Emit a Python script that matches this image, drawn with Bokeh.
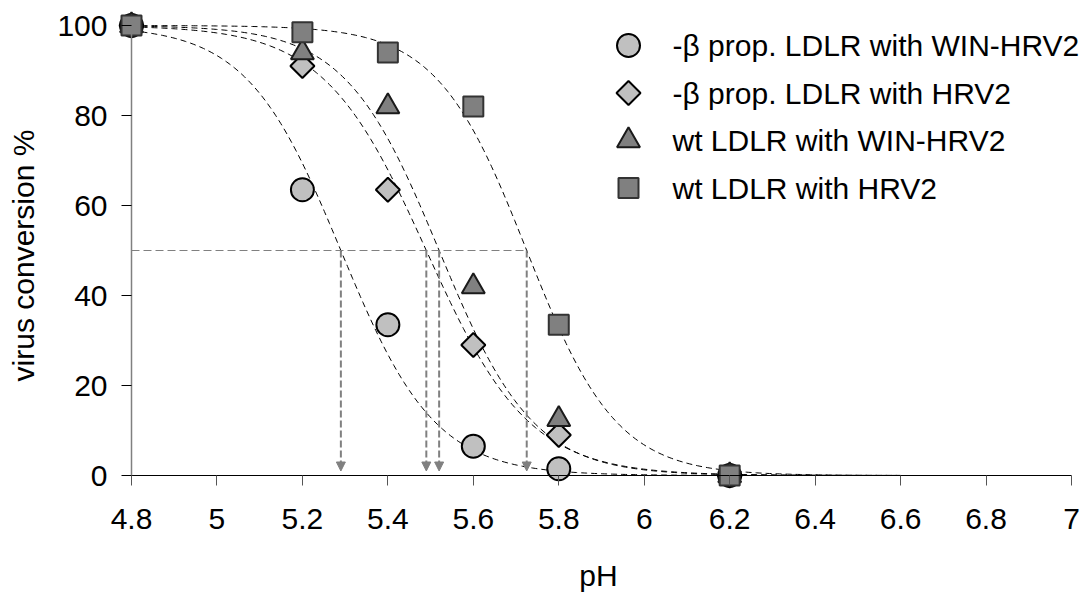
import numpy as np
from bokeh.plotting import figure
from bokeh.models import (LinearAxis, FixedTicker, Label, Arrow, NormalHead,
                          ColumnDataSource, Range1d)
from bokeh.embed import file_html
from bokeh.resources import INLINE

# ---------------- data ----------------
ph = [4.8, 5.2, 5.4, 5.6, 5.8, 6.2]
beta_win_hrv2 = [100, 63.5, 33.5, 6.5, 1.5, 0]
beta_hrv2 = [100, 91, 63.5, 29, 9, 0]
wt_win_hrv2 = [100, 94, 82, 42, 12.5, 0]
wt_hrv2 = [100, 98.5, 94, 82, 33.5, 0]
series_labels = ["-\u03b2 prop. LDLR with WIN-HRV2", "-\u03b2 prop. LDLR with HRV2",
                 "wt LDLR with WIN-HRV2", "wt LDLR with HRV2"]
# fitted sigmoid parameters (pH at 50 % conversion, width)
ph50 = [5.29, 5.49, 5.52, 5.725]
fit_width = [0.11, 0.12, 0.11, 0.105]
fit_range = [4.8, 6.6]
x_ticks = [4.8, 5.0, 5.2, 5.4, 5.6, 5.8, 6.0, 6.2, 6.4, 6.6, 6.8, 7.0]
x_tick_labels = ["4.8", "5", "5.2", "5.4", "5.6", "5.8", "6", "6.2", "6.4", "6.6", "6.8", "7"]
y_ticks = [0, 20, 40, 60, 80, 100]

# ---------------- layout ----------------
W, H = 1083, 592
ax_left, ax_right = 131, 1071      # px of x = 4.8 and x = 7
ax_top, ax_bottom = 25, 475        # px of y = 100 and y = 0
xmin, xmax = x_ticks[0], x_ticks[-1]
ymin, ymax = y_ticks[0], y_ticks[-1]
kx = (ax_right - ax_left) / (xmax - xmin)
ky = (ax_bottom - ax_top) / (ymax - ymin)


def px_to_x(px):
    return xmin + (px - ax_left) / kx


def px_to_y(py):
    return ymax - (py - ax_top) / ky


p = figure(width=W, height=H, output_backend="svg", toolbar_location=None,
           x_axis_type=None, y_axis_type=None,
           x_range=Range1d(px_to_x(0), px_to_x(W)),
           y_range=Range1d(px_to_y(H), px_to_y(0)),
           min_border=0, min_border_left=0, min_border_right=0,
           min_border_top=0, min_border_bottom=0)
p.outline_line_color = None
p.background_fill_color = "white"
p.border_fill_color = "white"

FONT = "Liberation Sans"
FS = "30px"

xaxis = LinearAxis(fixed_location=ymin, ticker=FixedTicker(ticks=x_ticks),
                   bounds=(xmin, xmax))
xaxis.major_label_overrides = {t: l for t, l in zip(x_ticks, x_tick_labels)}
xaxis.axis_line_color = "black"
xaxis.axis_line_width = 1
xaxis.major_tick_line_color = "#555555"
xaxis.major_tick_out = 10
xaxis.major_tick_in = 0
xaxis.minor_tick_line_color = None
xaxis.major_label_text_font = FONT
xaxis.major_label_text_font_size = FS
xaxis.major_label_text_color = "black"
xaxis.major_label_standoff = 23
p.add_layout(xaxis, "below")

yaxis = LinearAxis(fixed_location=xmin, ticker=FixedTicker(ticks=y_ticks),
                   bounds=(ymin, ymax))
yaxis.axis_line_color = "#808080"
yaxis.axis_line_width = 1.5
yaxis.major_tick_line_color = "black"
yaxis.major_tick_out = 10
yaxis.major_tick_in = 0
yaxis.minor_tick_line_color = None
yaxis.major_label_text_font = FONT
yaxis.major_label_text_font_size = FS
yaxis.major_label_text_color = "black"
yaxis.major_label_standoff = 14
p.add_layout(yaxis, "left")

# fitted curves
xs = np.linspace(fit_range[0], fit_range[1], 300)
for x0, s in zip(ph50, fit_width):
    ys = 100.0 / (1.0 + np.exp((xs - x0) / s))
    p.line(xs, ys, line_color="black", line_width=1, line_dash="6 4")

# 50 % guide line and arrows
p.line([xmin, max(ph50)], [50, 50], line_color="#808080", line_width=1, line_dash="8 4")
arr_src = ColumnDataSource(dict(x=ph50, y0=[50] * len(ph50), y1=[1] * len(ph50)))
p.add_layout(Arrow(source=arr_src, x_start="x", y_start="y0", x_end="x", y_end="y1",
                   line_color="#808080", line_width=2, line_dash="7 3",
                   end=NormalHead(size=9, fill_color="#808080", line_color="#808080",
                                  line_width=1)))

# marker styles (one per series)
styles = [
    dict(marker="circle", size=23, angle=0.0, fill_color="#C0C0C0", line_color="black"),
    dict(marker="square", size=17, angle=np.pi / 4, fill_color="#C0C0C0", line_color="black"),
    dict(marker="triangle", size=23, angle=0.0, fill_color="#808080", line_color="#1a1a1a"),
    dict(marker="square", size=20, angle=0.0, fill_color="#808080", line_color="#333333"),
]
series = [beta_win_hrv2, beta_hrv2, wt_win_hrv2, wt_hrv2]
for vals, st in zip(series, styles):
    p.scatter(ph, vals, line_width=2, **st)

# legend drawn by hand (screen-positioned)
leg_marker_px = 628
leg_text_px = 672
leg_row0_px = 45
leg_row_h = 47.5
for i, (lab, st) in enumerate(zip(series_labels, styles)):
    row_py = leg_row0_px + i * leg_row_h
    p.scatter([px_to_x(leg_marker_px)], [px_to_y(row_py)], line_width=2, **st)
    p.add_layout(Label(x=leg_text_px, y=H - row_py, x_units="screen", y_units="screen",
                       text=lab, text_align="left", text_baseline="middle",
                       text_font=FONT, text_font_size=FS, text_color="black"))

p.add_layout(Label(x=23, y=H - 255, x_units="screen", y_units="screen",
                   text="virus conversion %", angle=np.pi / 2,
                   text_align="center", text_baseline="middle",
                   text_font=FONT, text_font_size=FS, text_color="black"))
p.add_layout(Label(x=598, y=1, x_units="screen", y_units="screen",
                   text="pH", text_align="center", text_baseline="bottom",
                   text_font=FONT, text_font_size=FS, text_color="black"))

open("out.html", "w").write(file_html(p, INLINE))
